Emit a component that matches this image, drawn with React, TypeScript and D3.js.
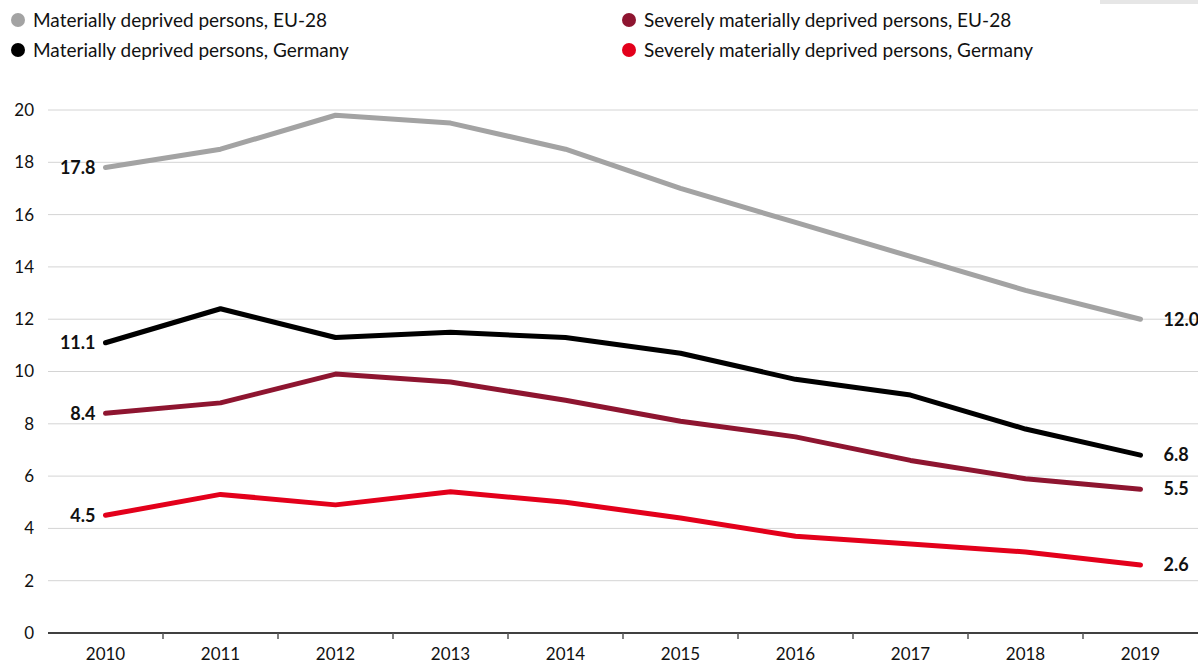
import React, { useRef, useEffect } from "react";
import * as d3 from "d3";

const years = ["2010", "2011", "2012", "2013", "2014", "2015", "2016", "2017", "2018", "2019"];
const euMaterial = [17.8, 18.5, 19.8, 19.5, 18.5, 17.0, 15.7, 14.4, 13.1, 12.0];
const deMaterial = [11.1, 12.4, 11.3, 11.5, 11.3, 10.7, 9.7, 9.1, 7.8, 6.8];
const euSevere = [8.4, 8.8, 9.9, 9.6, 8.9, 8.1, 7.5, 6.6, 5.9, 5.5];
const deSevere = [4.5, 5.3, 4.9, 5.4, 5.0, 4.4, 3.7, 3.4, 3.1, 2.6];
const yTicks = [0, 2, 4, 6, 8, 10, 12, 14, 16, 18, 20];

const series = [
    { name: "Materially deprived persons, EU-28", values: euMaterial, color: "#a3a3a3" },
    { name: "Materially deprived persons, Germany", values: deMaterial, color: "#000000" },
    { name: "Severely materially deprived persons, EU-28", values: euSevere, color: "#8e1530" },
    { name: "Severely materially deprived persons, Germany", values: deSevere, color: "#e3001b" },
];

const FONT = "Lato, 'Open Sans', sans-serif";

const App = () => {
    const svgRef = useRef<SVGSVGElement>(null);

    useEffect(() => {
        if (!svgRef.current) return;
        const width = 1198;
        const height = 663;
        const margin = { top: 110, right: 0, bottom: 30, left: 48 };

        d3.select(svgRef.current).selectAll("*").remove();
        const svg = d3.select(svgRef.current).attr("width", width).attr("height", height);

        // small grey strip top right
        svg.append("rect").attr("x", 1100).attr("y", 0).attr("width", 98).attr("height", 4).attr("fill", "#e6e6e6");

        const x = d3.scaleBand().domain(years).range([margin.left, width - margin.right]);
        const y = d3.scaleLinear().domain([0, 20]).range([height - margin.bottom, margin.top]);

        // legend
        const legendPos = [
            { x: 18, y: 20 },
            { x: 18, y: 50 },
            { x: 629, y: 20 },
            { x: 629, y: 50 },
        ];
        series.forEach((s, i) => {
            const p = legendPos[i];
            svg.append("circle").attr("cx", p.x).attr("cy", p.y).attr("r", 7).attr("fill", s.color);
            svg.append("text")
                .attr("x", p.x + 15)
                .attr("y", p.y)
                .attr("dy", "0.35em")
                .style("font-family", FONT)
                .style("font-size", "19px")
                .style("fill", "#111")
                .text(s.name);
        });

        // grid
        svg.append("g")
            .selectAll("line")
            .data(yTicks.filter((d) => d > 0))
            .enter()
            .append("line")
            .attr("x1", margin.left)
            .attr("x2", width)
            .attr("y1", (d) => y(d))
            .attr("y2", (d) => y(d))
            .attr("stroke", "#d4d4d4")
            .attr("stroke-width", 1);

        // y labels
        svg.append("g")
            .selectAll("text")
            .data(yTicks)
            .enter()
            .append("text")
            .attr("x", 34)
            .attr("y", (d) => y(d))
            .attr("dy", "0.35em")
            .attr("text-anchor", "end")
            .style("font-family", FONT)
            .style("font-size", "17px")
            .style("fill", "#111")
            .text((d) => d);

        // x axis
        svg.append("line")
            .attr("x1", margin.left)
            .attr("x2", width)
            .attr("y1", y(0))
            .attr("y2", y(0))
            .attr("stroke", "#000")
            .attr("stroke-width", 1.5);

        svg.append("g")
            .selectAll("line")
            .data(years.slice(1))
            .enter()
            .append("line")
            .attr("x1", (d) => x(d)!)
            .attr("x2", (d) => x(d)!)
            .attr("y1", y(0))
            .attr("y2", y(0) + 6)
            .attr("stroke", "#555")
            .attr("stroke-width", 1.5);

        svg.append("g")
            .selectAll("text")
            .data(years)
            .enter()
            .append("text")
            .attr("x", (d) => x(d)! + x.bandwidth() / 2)
            .attr("y", y(0) + 27)
            .attr("text-anchor", "middle")
            .style("font-family", FONT)
            .style("font-size", "17px")
            .style("fill", "#111")
            .text((d) => d);

        const line = d3
            .line<number>()
            .x((_, i) => x(years[i])! + x.bandwidth() / 2)
            .y((d) => y(d))
            .curve(d3.curveLinear);

        series.forEach((s) => {
            svg.append("path")
                .datum(s.values)
                .attr("d", line)
                .attr("fill", "none")
                .attr("stroke", s.color)
                .attr("stroke-width", 5)
                .attr("stroke-linecap", "round")
                .attr("stroke-linejoin", "round");

            const first = s.values[0];
            const last = s.values[s.values.length - 1];
            svg.append("text")
                .attr("x", x(years[0])! + x.bandwidth() / 2 - 10)
                .attr("y", y(first))
                .attr("dy", "0.35em")
                .attr("text-anchor", "end")
                .style("font-family", FONT)
                .style("font-size", "18px")
                .style("font-weight", "bold")
                .style("fill", "#111")
                .text(first.toFixed(1));
            svg.append("text")
                .attr("x", x(years[years.length - 1])! + x.bandwidth() / 2 + 23)
                .attr("y", y(last))
                .attr("dy", "0.35em")
                .attr("text-anchor", "start")
                .style("font-family", FONT)
                .style("font-size", "18px")
                .style("font-weight", "bold")
                .style("fill", "#111")
                .text(last.toFixed(1));
        });
    }, []);

    return <svg ref={svgRef} style={{ position: "absolute", left: 0, top: 0, background: "#fff" }} />;
};

export default App;
